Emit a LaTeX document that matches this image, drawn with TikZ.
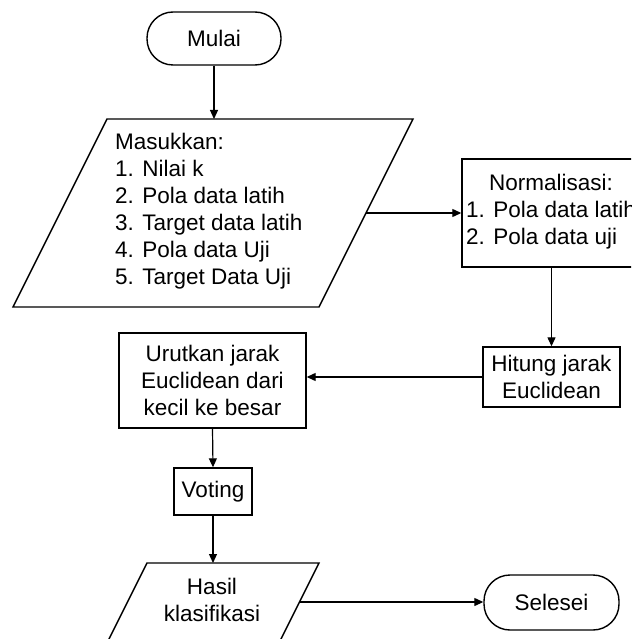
\documentclass[tikz,border=0pt]{standalone}
\usepackage{fontspec}
\setmainfont{Liberation Sans}
\usetikzlibrary{arrows.meta}
\newcommand\diafont{\fontsize{22.5}{27}\selectfont}
\tikzset{
  term/.style={draw, line width=1.4pt, rounded corners=26pt, minimum width=134pt, minimum height=53pt, inner sep=0pt, font=\diafont},
  proc/.style={draw, line width=1.4pt, inner sep=0pt, align=center, font=\diafont},
  txt/.style={inner sep=0pt, align=left, font=\diafont},
  ctxt/.style={inner sep=0pt, align=center, font=\diafont},
  shapeline/.style={line width=1.4pt, line join=miter},
  conn/.style={line width=1.2pt, -{Triangle[length=9pt,width=8pt]}}
}
\begin{document}
\begin{tikzpicture}[x=1pt,y=-1pt]
\useasboundingbox (0,0) rectangle (631,639);
\clip (0,0) rectangle (631,639);
% start
\node[term] (mulai) at (214,38.5) {Mulai};
% input parallelogram
\coordinate (inTL) at (107,119);
\coordinate (inTR) at (413,119);
\coordinate (inBR) at (319,307);
\coordinate (inBL) at (13,307);
\draw[shapeline] (inTL) -- (inTR) -- (inBR) -- (inBL) -- cycle;
\node[txt, anchor=west] (input) at (115,211.5) {Masukkan:\\1. Nilai k\\2. Pola data latih\\3. Target data latih\\4. Pola data Uji\\5. Target Data Uji};
\coordinate (inR) at (366,213);
% normalisasi
\node[proc, minimum width=218pt, minimum height=108pt] (norm) at (571,213) {};
\node[txt, anchor=west] (normtxt) at (466,211.5) {\hspace*{23pt}Normalisasi:\\1. Pola data latih\\2. Pola data uji};
% hitung
\node[proc, minimum width=137pt, minimum height=60pt] (hitung) at (551.5,377) {Hitung jarak\\Euclidean};
% urutkan
\node[proc, minimum width=187pt, minimum height=95pt] (urut) at (212.5,380.5) {Urutkan jarak\\Euclidean dari\\kecil ke besar};
% voting
\node[proc, minimum width=78pt, minimum height=47pt] (voting) at (213,491.5) {Voting};
% hasil parallelogram
\coordinate (hTL) at (147,563);
\coordinate (hTR) at (319,563);
\coordinate (hBR) at (277,647);
\coordinate (hBL) at (105,647);
\draw[shapeline] (hTL) -- (hTR) -- (hBR) -- (hBL) -- cycle;
\node[ctxt] (hasil) at (212,600) {Hasil\\klasifikasi};
\coordinate (hR) at (299.5,602);
% end
\node[term, minimum width=135pt, minimum height=55pt] (selesai) at (551.5,602.5) {Selesei};
% connectors
\draw[conn] (mulai.south) -- (mulai.south |- inTL);
\draw[conn] (inR) -- (inR -| norm.west);
\draw[conn] (hitung.north |- norm.south) -- (hitung.north);
\draw[conn] (hitung.west) -- (hitung.west -| urut.east);
\draw[conn] (urut.south) -- (voting.north);
\draw[conn] (voting.south) -- (voting.south |- hTL);
\draw[conn] (hR) -- (hR -| selesai.west);
\end{tikzpicture}
\end{document}
